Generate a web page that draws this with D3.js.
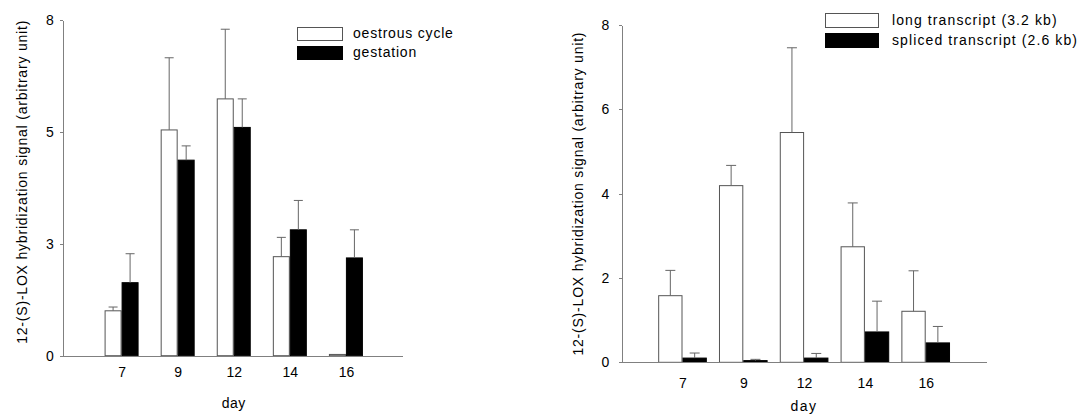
<!DOCTYPE html>
<meta charset="utf-8">
<style>
body { margin: 0; background: #fff; }
svg { display: block; }
text { font-family: "Liberation Sans", Arial, sans-serif; fill: #000; }
.axis path, .axis line { stroke: #808080; shape-rendering: crispEdges; }
.axis text { font-size: 14px; }
</style>
<svg width="1090" height="414" id="chart"></svg>
<script src="https://d3js.org/d3.v7.min.js"></script>
<script>
// days on the x axis (same for both panels)
var days = ["7", "9", "12", "14", "16"];

// left panel: oestrous cycle vs gestation
var oestrous    = [1.07, 5.38, 6.12, 2.36, 0.03];
var oestrousErr = [0.09, 1.72, 1.66, 0.46, 0];
var gestation    = [1.74, 4.66, 5.44, 3.00, 2.33];
var gestationErr = [0.69, 0.34, 0.68, 0.70, 0.67];
var leftTicks = [0, 8 / 3, 16 / 3, 8];
var leftTickLabels = ["0", "3", "5", "8"];
var leftLegend = ["oestrous cycle", "gestation"];

// right panel: long vs spliced transcript
var longT    = [1.58, 4.19, 5.45, 2.74, 1.21];
var longErr  = [0.60, 0.48, 2.01, 1.04, 0.96];
var spliced    = [0.10, 0.04, 0.10, 0.72, 0.46];
var splicedErr = [0.12, 0.03, 0.11, 0.73, 0.39];
var rightTicks = [0, 2, 4, 6, 8];
var rightTickLabels = ["0", "2", "4", "6", "8"];
var rightLegend = ["long transcript (3.2 kb)", "spliced transcript (2.6 kb)"];

var yTitle = "12-(S)-LOX hybridization signal (arbitrary unit)";

var svg = d3.select("#chart");

function panel(p) {
  var g = svg.append("g");

  var x = d3.scaleLinear().domain([-p.xPad, 5]).range([p.left, p.right]);
  var y = d3.scaleLinear().domain([0, 8]).range([p.bottom, p.top]);

  var series = [
    {vals: p.a, err: p.aErr, dx: -p.bw, fill: "#fff", stroke: "#555"},
    {vals: p.b, err: p.bErr, dx: 0, fill: "#000", stroke: "#000"}
  ];

  series.forEach(function(s) {
    var bars = g.append("g").selectAll("g")
      .data(s.vals.map(function(v, i) { return {v: v, e: s.err[i], i: i}; }))
      .enter().append("g");

    bars.append("rect")
      .attr("x", d => x(d.i + s.dx) + 0.5)
      .attr("width", d => x(d.i + s.dx + p.bw) - x(d.i + s.dx) - 1)
      .attr("y", d => y(d.v))
      .attr("height", d => Math.max(0.8, y(0) - y(d.v)))
      .attr("fill", s.fill)
      .attr("stroke", s.stroke)
      .attr("stroke-width", 1);

    var eb = bars.filter(d => d.e > 0);
    eb.append("line")
      .attr("x1", d => x(d.i + s.dx + p.bw / 2))
      .attr("x2", d => x(d.i + s.dx + p.bw / 2))
      .attr("y1", d => y(d.v))
      .attr("y2", d => y(d.v + d.e))
      .attr("stroke", "#666");
    eb.append("line")
      .attr("x1", d => x(d.i + s.dx + p.bw / 2) - p.cap / 2)
      .attr("x2", d => x(d.i + s.dx + p.bw / 2) + p.cap / 2)
      .attr("y1", d => y(d.v + d.e))
      .attr("y2", d => y(d.v + d.e))
      .attr("stroke", "#666");
  });

  // x axis: plain line with day labels, no ticks
  g.append("g")
    .attr("class", "axis")
    .attr("transform", "translate(0," + p.bottom + ")")
    .call(d3.axisBottom(x).tickValues(d3.range(days.length))
      .tickFormat((d, i) => days[i]).tickSize(0).tickPadding(p.xPadText))
    .call(g => g.selectAll("text").attr("fill", "#000"));

  g.append("g")
    .attr("class", "axis")
    .attr("transform", "translate(" + p.left + ",0)")
    .call(d3.axisLeft(y).tickValues(p.ticks)
      .tickFormat((d, i) => p.tickLabels[i]).tickSize(3).tickSizeOuter(0).tickPadding(p.yPadText))
    .call(g => g.selectAll("text").attr("fill", "#000"));

  g.append("text")
    .attr("transform", "translate(" + p.titleX + "," + ((p.top + p.bottom) / 2 - p.titleShift) + ") rotate(-90)")
    .attr("text-anchor", "middle")
    .attr("font-size", 14)
    .attr("letter-spacing", 0.8)
    .text(yTitle);

  g.append("text")
    .attr("x", x(2))
    .attr("y", p.dayY)
    .attr("text-anchor", "middle")
    .attr("font-size", 14)
    .attr("letter-spacing", p.dayLs)
    .text("day");

  // legend
  var lg = g.append("g").attr("transform", "translate(" + p.leg.x + "," + p.leg.y + ")");
  p.legend.forEach(function(name, i) {
    lg.append("rect")
      .attr("x", 0.5).attr("y", i * p.leg.gap + 0.5)
      .attr("width", p.leg.w).attr("height", p.leg.h)
      .attr("fill", series[i].fill).attr("stroke", series[i].stroke);
    lg.append("text")
      .attr("x", p.leg.tx).attr("y", i * p.leg.gap + p.leg.h - 2)
      .attr("font-size", 14)
      .attr("letter-spacing", p.leg.ls)
      .text(name);
  });
}

panel({
  a: oestrous, aErr: oestrousErr, b: gestation, bErr: gestationErr,
  ticks: leftTicks, tickLabels: leftTickLabels, legend: leftLegend,
  left: 62.7, right: 402, top: 20, bottom: 355.7, xPad: 1.05,
  bw: 0.303, cap: 9, xPadText: 11, yPadText: 6,
  titleX: 26.7, titleShift: 6, dayY: 408, dayLs: 0.5,
  leg: {x: 297, y: 27, w: 45, h: 13, gap: 19, tx: 56, ls: 0.8}
});

panel({
  a: longT, aErr: longErr, b: spliced, bErr: splicedErr,
  ticks: rightTicks, tickLabels: rightTickLabels, legend: rightLegend,
  left: 621.7, right: 986.5, top: 25, bottom: 362.3, xPad: 1,
  bw: 0.4, cap: 10, xPadText: 15.5, yPadText: 9.5,
  titleX: 583, titleShift: 0, dayY: 411, dayLs: 1.5,
  leg: {x: 825, y: 13, w: 53, h: 14, gap: 20, tx: 67, ls: 1.1}
});
</script>
